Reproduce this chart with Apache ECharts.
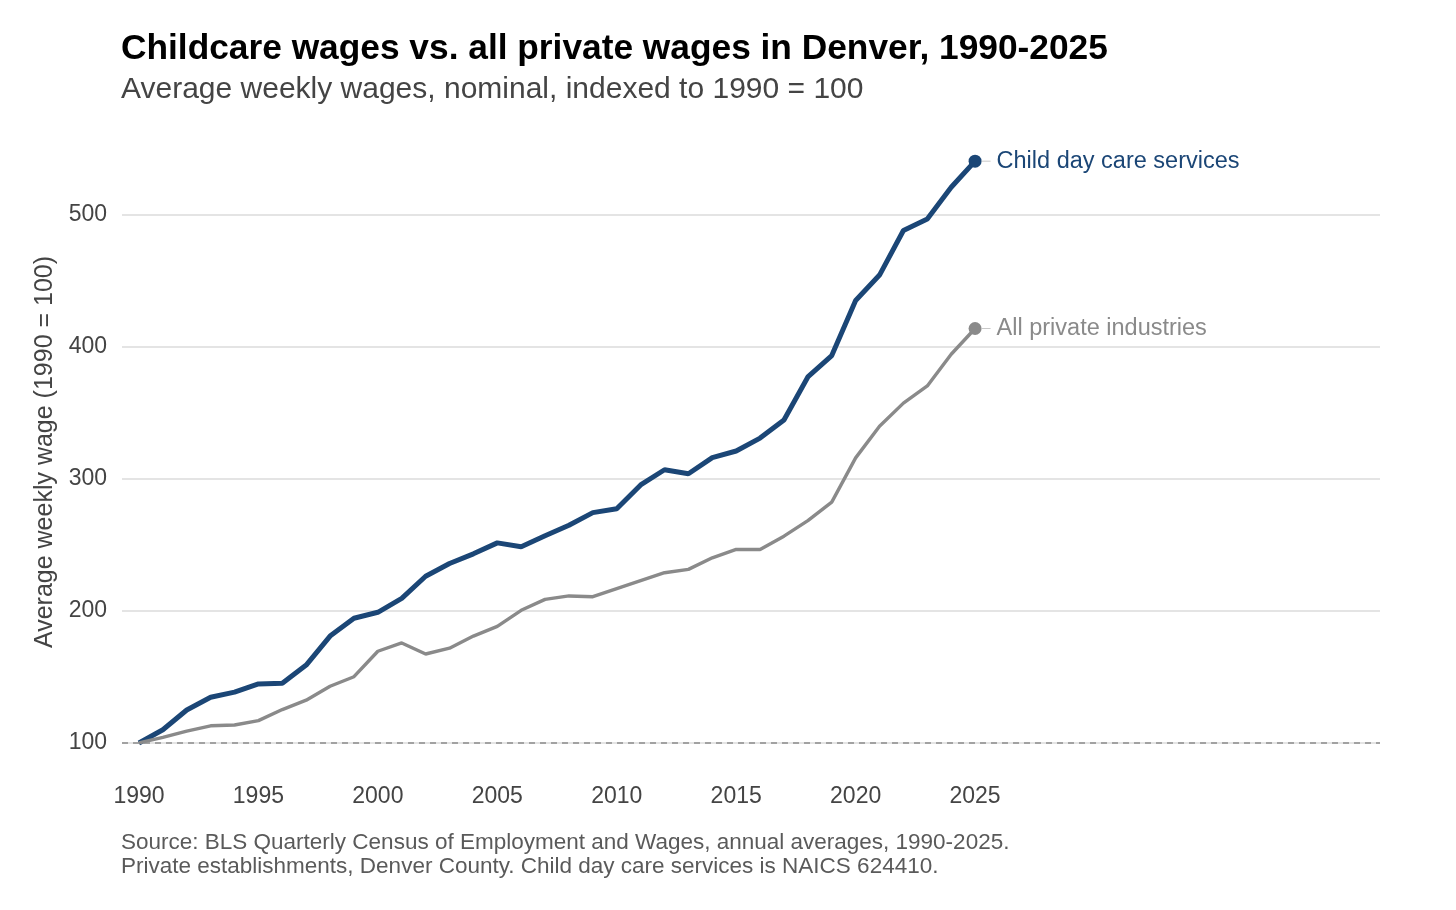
<!DOCTYPE html>
<html lang="en">
<head>
    <meta charset="UTF-8">
    <title>Childcare wages vs. all private wages in Denver</title>
    <script src="https://cdn.jsdelivr.net/npm/echarts@6.0.0/dist/echarts.min.js"></script>
    <style>
        * {
            margin: 0;
            padding: 0;
        }

        body {
            background-color: #fff;
        }

        #main {
            width: 1456px;
            height: 910px;
        }
    </style>
</head>
<body>
    <div id="main"></div>
<script>
    // data, 1990 = 100
    var years = [1990, 1991, 1992, 1993, 1994, 1995, 1996, 1997, 1998, 1999,
        2000, 2001, 2002, 2003, 2004, 2005, 2006, 2007, 2008, 2009,
        2010, 2011, 2012, 2013, 2014, 2015, 2016, 2017, 2018, 2019,
        2020, 2021, 2022, 2023, 2024, 2025];
    var childcare = [100, 110, 125, 134.6, 138.5, 144.7, 145.2, 159, 181, 194.5,
        199, 209.5, 226.3, 236, 243.3, 251.6, 248.6, 257, 265, 274.5,
        277.5, 295.5, 307, 304, 316.2, 321.2, 331, 344.7, 377.3, 393.5,
        435.3, 454.5, 488.3, 497, 521, 540.8];
    var allPrivate = [100, 104.3, 109, 113, 113.6, 116.9, 125.3, 132.4, 143, 150.2,
        169.5, 175.8, 167.4, 171.8, 181, 188.3, 200.5, 208.8, 211.4, 210.8,
        217, 223, 229, 231.5, 240.3, 246.6, 246.6, 256.7, 268.5, 282.5,
        316, 340, 357.5, 370.5, 394.5, 414];
    var seriesNames = ['Child day care services', 'All private industries'];
    var xTicks = [1990, 1995, 2000, 2005, 2010, 2015, 2020, 2025];
    var yTicks = [100, 200, 300, 400, 500];

    var blue = '#1b4676';
    var gray = '#8a8a8a';
    var font = '"Liberation Sans", Arial, Helvetica, sans-serif';

    function pairs(vals) {
        return years.map(function (y, i) { return [y, vals[i]]; });
    }

    function lastPoint(vals) {
        return [[years[years.length - 1], vals[vals.length - 1]]];
    }

    function endLabel(color) {
        return {
            show: true,
            position: 'right',
            distance: 0,
            formatter: '{c|}{g|}{t|{a}}',
            rich: {
                c: { width: 9, height: 1, backgroundColor: '#c8c8c8' },
                g: { width: 6 },
                t: { color: color, fontSize: 23.5, fontFamily: font }
            }
        };
    }

    var myChart = echarts.init(document.getElementById('main'));
    var option = {
        backgroundColor: '#fff',
        animation: false,
        title: [{
            text: 'Childcare wages vs. all private wages in Denver, 1990-2025',
            left: 121,
            top: 32,
            padding: 0,
            textStyle: { fontFamily: font, fontSize: 35.3, fontWeight: 'bold', color: '#000' }
        }, {
            text: 'Average weekly wages, nominal, indexed to 1990 = 100',
            left: 121,
            top: 75,
            padding: 0,
            textStyle: { fontFamily: font, fontSize: 30, fontWeight: 'normal', color: '#444' }
        }],
        graphic: [{
            type: 'text',
            left: 121,
            top: 831,
            style: {
                text: 'Source: BLS Quarterly Census of Employment and Wages, annual averages, 1990-2025.\nPrivate establishments, Denver County. Child day care services is NAICS 624410.',
                font: '22.5px ' + font,
                fill: '#5a5a5a',
                lineHeight: 24
            }
        }],
        grid: {
            left: 122,
            right: 76,
            top: 132,
            bottom: 138
        },
        xAxis: {
            type: 'value',
            min: 1989.29,
            max: 2041.95,
            axisLine: { show: false },
            axisTick: { show: false, customValues: xTicks },
            splitLine: { show: false },
            axisLabel: {
                customValues: xTicks,
                margin: 13,
                color: '#444',
                fontSize: 23,
                fontFamily: font,
                formatter: function (v) { return String(v); }
            }
        },
        yAxis: {
            type: 'value',
            min: 78,
            max: 562.9,
            name: 'Average weekly wage (1990 = 100)',
            nameLocation: 'middle',
            nameGap: 63,
            nameTextStyle: { color: '#444', fontSize: 25, fontFamily: font },
            axisLine: { show: false },
            axisTick: { show: false, customValues: yTicks },
            axisLabel: {
                customValues: yTicks,
                margin: 15,
                color: '#444',
                fontSize: 23,
                fontFamily: font
            },
            splitLine: {
                show: true,
                lineStyle: { color: '#e4e4e4', width: 2 }
            }
        },
        series: [{
            name: seriesNames[0],
            type: 'line',
            data: pairs(childcare),
            showSymbol: false,
            lineStyle: { color: blue, width: 5 },
            z: 3,
            markLine: {
                silent: true,
                symbol: 'none',
                label: { show: false },
                lineStyle: { color: '#8c8c8c', type: [6, 5], width: 1.5 },
                data: [{ yAxis: 100 }]
            }
        }, {
            name: seriesNames[1],
            type: 'line',
            data: pairs(allPrivate),
            showSymbol: false,
            lineStyle: { color: gray, width: 3.4 },
            z: 4
        }, {
            name: seriesNames[0],
            type: 'scatter',
            data: lastPoint(childcare),
            symbolSize: 13,
            itemStyle: { color: blue, opacity: 1 },
            label: endLabel(blue),
            z: 5
        }, {
            name: seriesNames[1],
            type: 'scatter',
            data: lastPoint(allPrivate),
            symbolSize: 13,
            itemStyle: { color: gray, opacity: 1 },
            label: endLabel(gray),
            z: 5
        }]
    };
    myChart.setOption(option);
</script>
</body>
</html>
